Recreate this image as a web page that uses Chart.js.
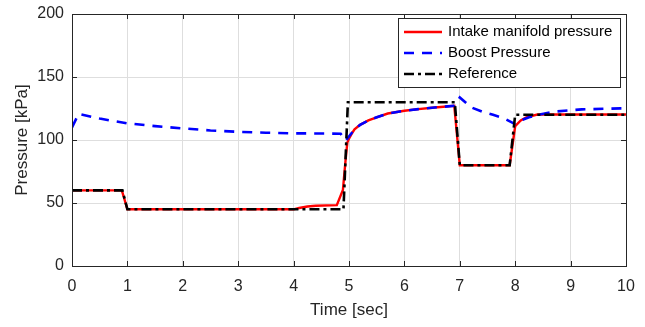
<!DOCTYPE html>
<html>
<head>
<meta charset="utf-8">
<script src="https://cdn.jsdelivr.net/npm/chart.js@4/dist/chart.umd.min.js"></script>
<style>
  html, body { margin: 0; padding: 0; background: #fff; }
  canvas { display: block; }
</style>
</head>
<body>
<canvas id="chart" width="645" height="327"></canvas>
<script>
// time [sec] and pressure [kPa]
const intakeTime = [0, 0.9, 1.0, 4.0, 4.1, 4.25, 4.4, 4.78, 4.89, 4.94, 4.97, 5.0, 5.05, 5.1, 5.2, 5.35, 5.5, 5.7, 6.0, 6.25, 6.5, 6.9, 7.0, 7.9, 8.0, 8.1, 8.2, 8.4, 10];
const intakePressure = [60, 60, 45, 45, 46, 47.2, 47.8, 48.3, 60.3, 85, 98, 101, 105, 108.5, 112, 115.5, 118, 121, 123.2, 124.5, 125.6, 127.2, 80, 80, 111, 115.5, 118, 120.2, 120.2];

const boostTime = [0, 0.12, 0.5, 1.0, 1.5, 2.0, 2.5, 3.0, 3.5, 4.0, 4.85, 4.94, 5.02, 5.1, 5.2, 5.35, 5.5, 5.7, 6.0, 6.25, 6.5, 6.9, 7.0, 7.2, 7.4, 7.6, 7.8, 7.98, 8.1, 8.25, 8.4, 8.7, 9.2, 9.9, 10];
const boostPressure = [110, 120.8, 117, 113.2, 111, 109.2, 107.6, 106.5, 105.8, 105.3, 105, 99.5, 104, 108.5, 112, 115.5, 118, 121, 123.2, 124.5, 125.6, 127.2, 133.8, 126, 122.5, 120, 117.2, 113, 115.5, 118, 119.8, 122.5, 124.3, 125.1, 125.1];

const refTime = [0, 0.91, 1.0, 4.9, 4.98, 6.91, 7.0, 7.9, 8.0, 10];
const refPressure = [60, 60, 45, 45, 130, 130, 80, 80, 120, 120];

const xTicks = [0, 1, 2, 3, 4, 5, 6, 7, 8, 9, 10];
const yTicks = [0, 50, 100, 150, 200];

const axisColor = '#262626';
const gridColor = '#dedede';
const fontFamily = '"Liberation Sans", Arial, Helvetica, sans-serif';

function toPoints(xs, ys) {
  return xs.map((x, i) => ({ x: x, y: ys[i] }));
}

// box around the axes plus inward tick marks, like the original figure
const framePlugin = {
  id: 'frame',
  afterDraw(chart) {
    const { ctx, chartArea: a, scales } = chart;
    const len = 5;
    ctx.save();
    ctx.strokeStyle = axisColor;
    ctx.lineWidth = 1;
    ctx.beginPath();
    xTicks.forEach(v => {
      const px = Math.round(scales.x.getPixelForValue(v)) + 0.5;
      ctx.moveTo(px, a.bottom); ctx.lineTo(px, a.bottom - len);
      ctx.moveTo(px, a.top); ctx.lineTo(px, a.top + len);
    });
    yTicks.forEach(v => {
      const py = Math.round(scales.y.getPixelForValue(v)) + 0.5;
      ctx.moveTo(a.left, py); ctx.lineTo(a.left + len, py);
      ctx.moveTo(a.right, py); ctx.lineTo(a.right - len, py);
    });
    ctx.stroke();
    ctx.strokeRect(Math.round(a.left) + 0.5, Math.round(a.top) + 0.5,
      Math.round(a.right - a.left), Math.round(a.bottom - a.top));
    ctx.restore();
  }
};

// legend box in the upper right corner inside the axes
const legendPlugin = {
  id: 'boxLegend',
  afterDraw(chart) {
    const { ctx, chartArea: a } = chart;
    const sets = chart.data.datasets;
    ctx.save();
    ctx.font = '15px ' + fontFamily;
    const textW = Math.max(...sets.map(d => ctx.measureText(d.label).width));
    const lineLen = 38, padL = 6, gap = 6, padR = 8, rowH = 21;
    const right = Math.round(a.right) - 6;
    const top = Math.round(a.top) + 4;
    const w = padL + lineLen + gap + textW + padR;
    const h = rowH * sets.length + 6;
    const left = Math.round(right - w);
    ctx.fillStyle = '#fff';
    ctx.fillRect(left, top, w, h);
    ctx.strokeStyle = axisColor;
    ctx.lineWidth = 1;
    ctx.strokeRect(left + 0.5, top + 0.5, Math.round(w), h);
    sets.forEach((d, i) => {
      const y = top + 3 + rowH * i + rowH / 2 + 0.5;
      ctx.beginPath();
      ctx.strokeStyle = d.borderColor;
      ctx.lineWidth = d.borderWidth;
      ctx.setLineDash(d.borderDash || []);
      ctx.moveTo(left + padL, y);
      ctx.lineTo(left + padL + lineLen, y);
      ctx.stroke();
      ctx.setLineDash([]);
      ctx.fillStyle = '#000';
      ctx.textBaseline = 'middle';
      ctx.textAlign = 'left';
      ctx.fillText(d.label, left + padL + lineLen + gap, y);
    });
    ctx.restore();
  }
};

new Chart(document.getElementById('chart').getContext('2d'), {
  type: 'line',
  data: {
    datasets: [
      {
        label: 'Intake manifold pressure',
        data: toPoints(intakeTime, intakePressure),
        borderColor: '#ff0000',
        borderWidth: 2.4,
        order: 3
      },
      {
        label: 'Boost Pressure',
        data: toPoints(boostTime, boostPressure),
        borderColor: '#0000ff',
        borderWidth: 2.6,
        borderDash: [10, 8],
        order: 2
      },
      {
        label: 'Reference',
        data: toPoints(refTime, refPressure),
        borderColor: '#000000',
        borderWidth: 2.6,
        borderDash: [10, 4, 3, 4],
        order: 1
      }
    ]
  },
  options: {
    responsive: false,
    animation: false,
    parsing: false,
    elements: { point: { radius: 0 }, line: { tension: 0, fill: false } },
    layout: { padding: { top: 14, right: 19, left: 0, bottom: 0 } },
    plugins: { legend: { display: false }, tooltip: { enabled: false } },
    scales: {
      x: {
        type: 'linear',
        min: 0,
        max: 10,
        afterFit: s => { s.height = 61; s.paddingLeft = 0; s.paddingRight = 0; },
        afterBuildTicks: s => { s.ticks = xTicks.map(v => ({ value: v })); },
        ticks: { color: axisColor, font: { family: fontFamily, size: 16 }, padding: 11, maxRotation: 0 },
        grid: { color: gridColor, drawTicks: false },
        border: { display: false },
        title: {
          display: true,
          text: 'Time [sec]',
          color: axisColor,
          font: { family: fontFamily, size: 17 },
          padding: { top: 0, bottom: 6 }
        }
      },
      y: {
        min: 0,
        max: 200,
        afterFit: s => { s.width = 72; s.paddingTop = 0; s.paddingBottom = 0; },
        afterBuildTicks: s => { s.ticks = yTicks.map(v => ({ value: v })); },
        ticks: { color: axisColor, font: { family: fontFamily, size: 16 }, padding: 8 },
        grid: { color: gridColor, drawTicks: false },
        border: { display: false },
        title: {
          display: true,
          text: 'Pressure [kPa]',
          color: axisColor,
          font: { family: fontFamily, size: 17 },
          padding: { top: 12, bottom: 0 }
        }
      }
    }
  },
  plugins: [framePlugin, legendPlugin]
});
</script>
</body>
</html>
